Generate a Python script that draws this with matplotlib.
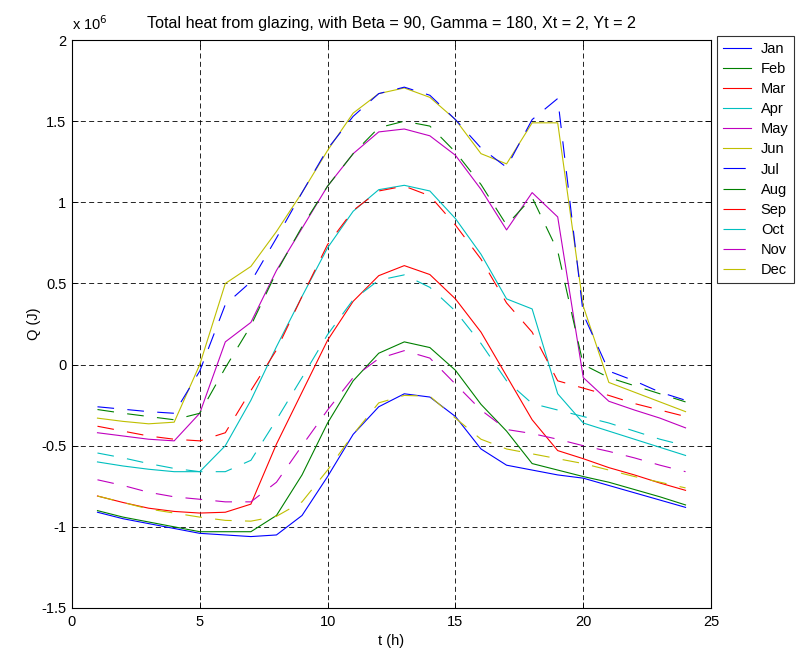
import numpy as np
import matplotlib
matplotlib.use('Agg')
import matplotlib.pyplot as plt

plt.rcParams['font.family'] = ['Liberation Sans', 'DejaVu Sans']

# hour of day
hours = np.arange(1, 25)
months = ['Jan', 'Feb', 'Mar', 'Apr', 'May', 'Jun',
          'Jul', 'Aug', 'Sep', 'Oct', 'Nov', 'Dec']

# Q in units of 1e6 J
jan = [-0.91, -0.95, -0.98, -1.01, -1.04, -1.05, -1.06, -1.05, -0.93, -0.69, -0.43, -0.26,
       -0.18, -0.20, -0.32, -0.52, -0.62, -0.65, -0.68, -0.70, -0.745, -0.79, -0.835, -0.88]
feb = [-0.90, -0.94, -0.97, -1.00, -1.03, -1.03, -1.03, -0.93, -0.68, -0.36, -0.10, 0.07,
       0.14, 0.105, -0.035, -0.245, -0.41, -0.61, -0.65, -0.69, -0.725, -0.77, -0.815, -0.865]
mar = [-0.81, -0.85, -0.885, -0.905, -0.915, -0.91, -0.86, -0.49, -0.17, 0.15, 0.39, 0.548,
       0.61, 0.555, 0.405, 0.20, -0.07, -0.34, -0.53, -0.58, -0.635, -0.68, -0.73, -0.775]
apr = [-0.60, -0.625, -0.645, -0.66, -0.66, -0.50, -0.22, 0.11, 0.42, 0.72, 0.945, 1.078,
       1.105, 1.07, 0.90, 0.68, 0.405, 0.343, -0.18, -0.36, -0.41, -0.46, -0.51, -0.56]
may = [-0.42, -0.44, -0.46, -0.47, -0.30, 0.14, 0.26, 0.58, 0.84, 1.10, 1.30, 1.434,
       1.452, 1.41, 1.29, 1.08, 0.83, 1.06, 0.91, -0.08, -0.226, -0.28, -0.33, -0.39]
jun = [-0.33, -0.35, -0.365, -0.355, 0.0, 0.50, 0.605, 0.82, 1.06, 1.32, 1.55, 1.67,
       1.705, 1.647, 1.51, 1.30, 1.237, 1.49, 1.49, 0.36, -0.11, -0.17, -0.23, -0.29]
jul = [-0.26, -0.275, -0.29, -0.30, -0.04, 0.37, 0.51, 0.78, 1.06, 1.33, 1.53, 1.67,
       1.71, 1.66, 1.51, 1.335, 1.216, 1.51, 1.64, 0.31, -0.04, -0.10, -0.17, -0.22]
aug = [-0.277, -0.30, -0.32, -0.34, -0.30, -0.02, 0.24, 0.57, 0.85, 1.10, 1.30, 1.46,
       1.50, 1.47, 1.31, 1.11, 0.86, 1.03, 0.70, 0.0, -0.08, -0.13, -0.18, -0.23]
sep = [-0.38, -0.41, -0.44, -0.46, -0.47, -0.42, -0.16, 0.09, 0.42, 0.74, 0.95, 1.07,
       1.10, 1.04, 0.86, 0.65, 0.38, 0.20, -0.10, -0.145, -0.19, -0.24, -0.28, -0.32]
oct_ = [-0.545, -0.575, -0.61, -0.64, -0.66, -0.66, -0.59, -0.34, -0.08, 0.185, 0.40, 0.52,
        0.553, 0.476, 0.33, 0.13, -0.10, -0.24, -0.28, -0.32, -0.36, -0.41, -0.46, -0.50]
nov = [-0.71, -0.745, -0.787, -0.815, -0.83, -0.846, -0.846, -0.725, -0.50, -0.28, -0.08, 0.037,
       0.086, 0.04, -0.12, -0.28, -0.40, -0.425, -0.46, -0.50, -0.535, -0.575, -0.62, -0.66]
dec = [-0.81, -0.85, -0.89, -0.915, -0.94, -0.96, -0.965, -0.935, -0.846, -0.65, -0.43, -0.236,
       -0.19, -0.195, -0.33, -0.46, -0.52, -0.55, -0.58, -0.61, -0.65, -0.69, -0.725, -0.76]

series = [jan, feb, mar, apr, may, jun, jul, aug, sep, oct_, nov, dec]
colors = ['#0000ff', '#008000', '#ff0000', '#00bfbf', '#bf00bf', '#bfbf00']

fig = plt.figure(figsize=(7.99, 6.55), dpi=100)
ax = fig.add_axes([0.090, 0.0718, 0.800, 0.867])

for i, (name, vals) in enumerate(zip(months, series)):
    if i < 6:
        ax.plot(hours, vals, color=colors[i % 6], lw=0.8, label=name)
    else:
        ax.plot(hours, vals, color=colors[i % 6], lw=0.8, label=name,
                linestyle=(0, (15, 12)))

ax.set_xlim(0, 25)
ax.set_ylim(-1.5, 2)
ax.set_xticks([0, 5, 10, 15, 20, 25])
ax.set_yticks([-1.5, -1, -0.5, 0, 0.5, 1, 1.5, 2])
ax.set_yticklabels(['-1.5', '-1', '-0.5', '0', '0.5', '1', '1.5', '2'])
ax.tick_params(direction='in', length=4, width=0.6, labelsize=10.5,
               top=True, right=True)
ax.tick_params(axis='x', pad=5)
ax.tick_params(axis='y', pad=4)
ax.grid(True, color='black', linestyle=(0, (6, 4)), lw=0.6)
for s in ax.spines.values():
    s.set_linewidth(0.8)

ax.set_xlabel('t (h)', fontsize=10.5, labelpad=4)
ax.set_ylabel('Q (J)', fontsize=10.5, labelpad=0)
ax.set_title('Total heat from glazing, with Beta = 90, Gamma = 180, Xt = 2, Yt = 2',
             fontsize=11.6, pad=9)
ax.text(0.0, 1.012, r'x 10$^{6}$', transform=ax.transAxes, fontsize=10.5,
        ha='left', va='bottom')

leg = fig.legend(loc='upper left', bbox_to_anchor=(717 / 799, 1 - 36 / 655),
                 fontsize=10.5, frameon=True, fancybox=False, borderaxespad=0,
                 handlelength=1.9, labelspacing=0.42, borderpad=0.4,
                 handletextpad=0.7)
leg.get_frame().set_edgecolor('black')
leg.get_frame().set_linewidth(0.8)
# dashed months show a single short dash in the legend
for ln in leg.get_lines()[6:]:
    ln.set_linestyle((0, (20, 40)))

fig.savefig('out.png', dpi=100)
